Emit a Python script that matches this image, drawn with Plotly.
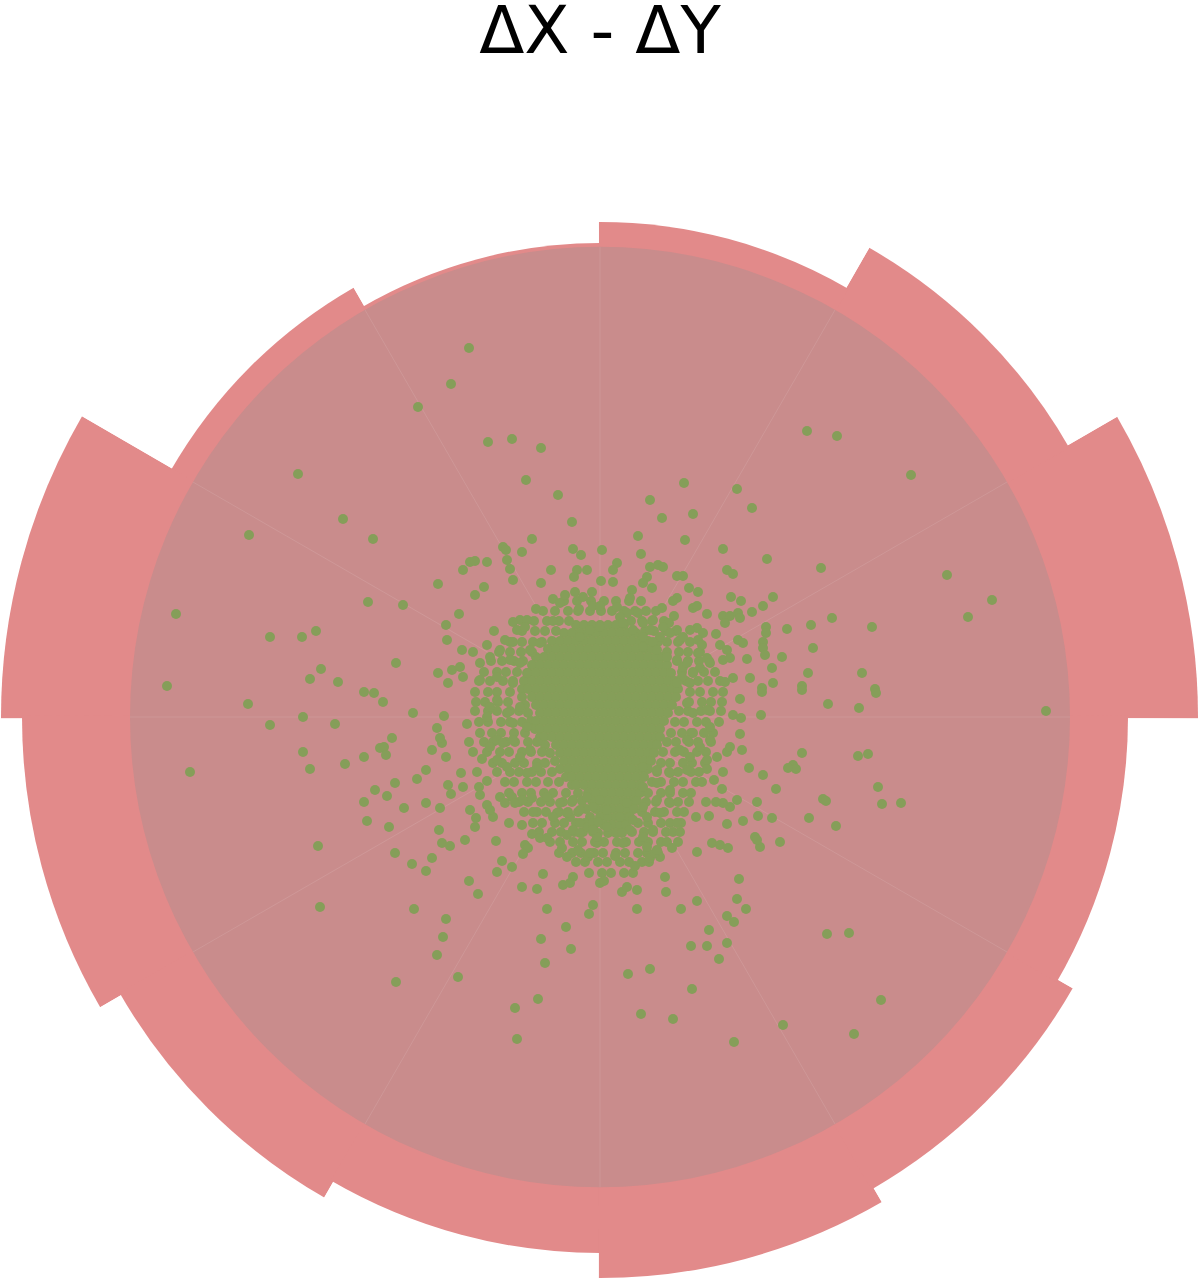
import math
import numpy as np
import plotly.graph_objects as go

TITLE = "ΔX - ΔY"

# ---- angular histogram (12 bins of 30 degrees), radial length in data units ----
bin_start = [0, 30, 60, 90, 120, 150, 180, 210, 240, 270, 300, 330]
bin_width = 30
bin_value = [598, 541, 495, 474, 495, 599, 578, 554, 536, 561, 545, 528]

# radius of the reference disc (data units)
disc_radius = 470

# ---- dense core of the ΔX-ΔY cloud: rows of (ΔY, [ΔX ...]) ----
core_dy = [92, 84, 76, 68, 60, 52, 44, 36, 28, 20, 12, 4, -4, -12, -20, -28, -36, -44,
           -52, -60, -68, -76, -84, -92, -100, -108, -116]
core_dx = [
    [-24, -16, -8, 0, 8, 16, 24],
    [-36, -28, -20, -12, -4, 4, 12, 20, 28, 36],
    [-48, -40, -32, -24, -16, -8, 0, 8, 16, 24, 32, 40, 48],
    [-52, -44, -36, -28, -20, -12, -4, 4, 12, 20, 28, 36, 44, 52],
    [-64, -56, -48, -40, -32, -24, -16, -8, 0, 8, 16, 24, 32, 40, 48, 56, 62],
    [-68, -60, -52, -44, -36, -28, -20, -12, -4, 4, 12, 20, 28, 36, 44, 52, 60, 67],
    [-72, -64, -56, -48, -40, -32, -24, -16, -8, 0, 8, 16, 24, 32, 40, 48, 56, 64, 71],
    [-76, -68, -60, -52, -44, -36, -28, -20, -12, -4, 4, 12, 20, 28, 36, 44, 52, 60, 68, 75],
    [-78, -72, -64, -56, -48, -40, -32, -24, -16, -8, 0, 8, 16, 24, 32, 40, 48, 56, 64, 72, 78],
    [-78, -68, -60, -52, -44, -36, -28, -20, -12, -4, 4, 12, 20, 28, 36, 44, 52, 60, 68, 76],
    [-75, -64, -56, -48, -40, -32, -24, -16, -8, 0, 8, 16, 24, 32, 40, 48, 56, 64, 72],
    [-72, -60, -52, -44, -36, -28, -20, -12, -4, 4, 12, 20, 28, 36, 44, 52, 60, 68],
    [-69, -64, -56, -48, -40, -32, -24, -16, -8, 0, 8, 16, 24, 32, 40, 48, 56, 64],
    [-65, -60, -52, -44, -36, -28, -20, -12, -4, 4, 12, 20, 28, 36, 44, 52, 60],
    [-60, -56, -48, -40, -32, -24, -16, -8, 0, 8, 16, 24, 32, 40, 48, 56, 60],
    [-55, -44, -36, -28, -20, -12, -4, 4, 12, 20, 28, 36, 44, 52, 57],
    [-50, -40, -32, -24, -16, -8, 0, 8, 16, 24, 32, 40, 48, 54],
    [-45, -36, -28, -20, -12, -4, 4, 12, 20, 28, 36, 44, 51],
    [-40, -32, -24, -16, -8, 0, 8, 16, 24, 32, 40, 48],
    [-34, -28, -20, -12, -4, 4, 12, 20, 28, 36, 44],
    [-28, -24, -16, -8, 0, 8, 16, 24, 32, 40],
    [-22, -12, -4, 4, 12, 20, 28, 36, 40],
    [-18, -8, 0, 8, 16, 24, 32, 37],
    [-14, -4, 4, 12, 20, 28, 34],
    [-10, 0, 8, 16, 24, 30],
    [-6, 4, 12, 20, 26],
    [-2, 8, 16, 22],
]

# ---- half-dense ring around the core: rows of (ΔY, [ΔX ...]) ----
ring_dy = [116, 106, 96, 86, 75, 65, 56, 45, 36, 25, 15, 6, -5, -16, -25, -35, -46, -55,
           -65, -76, -85, -95, -106, -115, -125, -136, -145, -156]
ring_dx = [
    [-36, -23, -9, 4, 16, 29, 41],
    [-57, -45, -32, -22, -10, 1, 12, 24, 35, 46, 56],
    [-66, -53, -41, -31, 31, 42, 52, 64],
    [-78, -65, -55, -44, 45, 54, 66, 76],
    [-90, -78, -67, -58, 58, 67, 78, 90],
    [-101, -90, -79, -68, 67, 79, 88, 100],
    [-109, -98, -86, -77, 77, 88, 99, 109],
    [-116, -103, -94, -83, 82, 93, 104, 115],
    [-121, -110, -97, -87, 86, 98, 108, 120],
    [-125, -112, -103, -90, 90, 100, 113, 123],
    [-124, -115, -102, -92, 89, 102, 111, 122],
    [-125, -112, -103, -90, -81, 79, 88, 101, 110, 121],
    [-121, -112, -99, -90, -78, 75, 84, 97, 106, 119],
    [-120, -108, -99, -86, -75, 71, 82, 91, 104, 113],
    [-116, -107, -94, -85, -72, -63, 67, 76, 89, 98, 111],
    [-113, -100, -91, -78, -69, -58, 63, 75, 84, 97, 106],
    [-107, -98, -85, -76, -63, -55, 61, 70, 83, 92, 105],
    [-103, -90, -81, -68, -59, -48, 57, 69, 78, 91, 99],
    [-95, -86, -73, -64, -52, -41, 52, 61, 74, 83, 96],
    [-91, -78, -69, -56, -47, -34, 48, 61, 70, 83, 91],
    [-81, -72, -59, -50, -37, -28, 46, 56, 69, 78, 89],
    [-76, -63, -54, -41, -32, -22, 42, 55, 64, 77, 84],
    [-67, -58, -45, -36, -24, -15, 38, 48, 61, 70, 81],
    [-61, -48, -39, -26, -17, -7, 32, 44, 53, 66, 73],
    [-50, -40, -27, -18, -5, 4, 17, 26, 39, 48, 61, 67],
    [-41, -28, -19, -6, 3, 16, 25, 38, 47, 58],
    [-24, -15, -2, 7, 20, 29, 42, 49],
    [-11, 2, 11, 24, 33],
]

# ---- remaining points of the cloud: (ΔX, ΔY) ----
cloud_points = [
    (-302, 243), (-257, 198), (-351, 182), (-227, 178), (-232, 115), (-424, 103), (-330, 80),
    (-298, 80), (-284, 86), (-279, 48), (-290, 38), (-262, 35), (-433, 31), (-236, 25), (-226, 24),
    (-131, 369), (-149, 333), (-182, 310), (-112, 275), (-88, 278), (-59, 269), (-74, 237),
    (-42, 222), (-28, 195), (-68, 178), (-97, 170), (-94, 167), (-78, 165), (-27, 168), (-19, 162),
    (2, 167), (-130, 155), (-125, 156), (-137, 147), (-113, 155), (-93, 157), (-90, 148), (-87, 137),
    (-49, 147), (-23, 147), (-13, 147), (-26, 140), (1, 136), (-59, 134), (-162, 133), (-116, 130),
    (-125, 122), (-197, 112), (-141, 103), (-154, 92), (-153, 77), (-64, 108), (-47, 118), (-40, 114),
    (-35, 122), (-25, 125), (-17, 120), (-8, 125), (-21, 108), (-7, 111), (0, 111), (-106, 86),
    (-80, 97), (-73, 97), (-87, 95), (-83, 87), (-75, 90), (-47, 96), (-95, 77), (-87, 75),
    (-204, 54), (-162, 44), (-138, 67), (-127, 65), (-113, 72), (-148, 47), (-140, 50), (-137, 40),
    (-152, 34), (-120, 54), (-110, 60), (-100, 67), (-90, 57), (-80, 54), (-70, 67), (-60, 74),
    (-20, 80), (-10, 87), (0, 90), (-120, 37), (-103, 40), (-87, 34), (-73, 44),
    (207, 286), (237, 281), (84, 234), (137, 228), (50, 217), (152, 209), (93, 203), (62, 199),
    (38, 181), (85, 177), (123, 168), (167, 158), (221, 149), (41, 163), (17, 154), (13, 147),
    (13, 135), (50, 150), (58, 152), (63, 150), (47, 140), (43, 134), (52, 129), (77, 141),
    (83, 141), (127, 147), (133, 143), (89, 129), (98, 125), (32, 127), (30, 119), (77, 119),
    (73, 116), (131, 120), (141, 116), (173, 120), (62, 109), (93, 109), (97, 111), (163, 111),
    (152, 105), (107, 103), (123, 101), (130, 101), (138, 104), (140, 99), (38, 104), (27, 104),
    (20, 100), (74, 101), (69, 94), (232, 99), (211, 92), (187, 88), (166, 90), (166, 84),
    (125, 94), (97, 89), (103, 84), (116, 83), (213, 69), (182, 60), (163, 75), (163, 69),
    (165, 62), (138, 77), (143, 74), (120, 72), (127, 67), (123, 57), (130, 59), (147, 58),
    (98, 77), (102, 72), (98, 64), (107, 59), (110, 54), (172, 49), (208, 44), (202, 31),
    (173, 34), (150, 39), (162, 29), (133, 39), (125, 35), (100, 49), (93, 44), (83, 50),
    (82, 40), (77, 87), (80, 77), (70, 84), (60, 80), (50, 87), (43, 80), (53, 75),
    (17, 110), (23, 94), (33, 87), (43, 94), (53, 97), (63, 90), (83, 80), (90, 87),
    (43, 70), (57, 67), (67, 60), (77, 57), (87, 54), (77, 34), (90, 34),
    (311, 242), (347, 142), (392, 117), (368, 100), (272, 90), (262, 44), (275, 28),
    (-352, 13), (-330, -8), (-297, 0), (-265, -7), (-410, -55), (-297, -35), (-290, -52),
    (-255, -47), (-236, -40), (-220, -31), (-225, -73), (-236, -85), (-233, -104), (-282, -129),
    (-280, -190),
    (-217, 15), (-187, 4), (-156, 1), (-133, -7), (-163, -11), (-208, -21), (-216, -30), (-214, -38),
    (-168, -33), (-158, -26), (-160, -21), (-154, -40), (-131, -25), (-127, -35), (-118, -42),
    (-174, -53), (-183, -62), (-139, -56), (-137, -70), (-123, -55), (-121, -70), (-120, -78),
    (-113, -64), (-205, -66), (-213, -79), (-152, -68), (-149, -77), (-174, -86), (-160, -91),
    (-196, -91), (-130, -93), (-124, -101), (-125, -110), (-113, -88), (-107, -100), (-110, -93),
    (-100, -80), (-95, -86), (-88, -80), (-85, -86), (-77, -83), (-68, -81), (-67, -95),
    (-211, -110), (-161, -113), (-91, -106), (-78, -108), (-135, -123), (-104, -124), (-158, -126),
    (-150, -129), (-68, -117), (-60, -121), (-53, -121), (-75, -128), (-72, -131), (-77, -137),
    (-205, -136), (-188, -147), (-168, -141), (-174, -154), (-98, -144), (-88, -150), (-103, -155),
    (-131, -164), (-122, -177), (-78, -170), (-63, -172), (-57, -157), (-37, -168), (-27, -160),
    (-30, -166), (0, -166), (4, -164), (-38, -131), (-33, -140), (-22, -133), (-12, -140),
    (-10, -136), (-3, -126), (-3, -120), (-33, -118), (-27, -113), (-20, -106), (-12, -110),
    (-7, -106), (-2, -105), (-43, -96), (-30, -100), (-186, -192), (-154, -202), (-157, -220),
    (-163, -238), (-53, -192), (-34, -210), (-59, -222), (-29, -232), (-55, -246), (-7, -188),
    (-11, -197), (-204, -265), (-142, -260), (-62, -282), (-85, -291), (-83, -322),
    (-110, 10), (-103, 17), (-113, 0), (-93, 4), (-80, 10), (-87, -6), (-73, -10), (-103, -23),
    (-110, -30), (-97, -26), (-87, -23), (-103, -43), (-93, -50), (-80, -40), (-70, -33),
    (-73, -56), (-63, -50), (-53, -80), (-40, -86), (-27, -83), (-13, -80), (0, -83), (-47, -100),
    (-33, -96), (-20, -93), (-7, -90), (7, -93), (-20, -116), (-7, -113), (7, -110),
    (228, 13), (161, 2), (162, 25), (202, 27), (140, 18), (133, 2), (141, -1), (140, -17),
    (142, -33), (127, -35), (130, -30), (202, -36), (193, -48), (196, -52), (188, -51), (149, -51),
    (163, -58), (176, -72), (223, -82), (226, -84), (236, -109), (209, -101), (172, -101),
    (158, -99), (157, -85), (180, -125), (155, -120), (160, -130), (157, -123), (143, -104),
    (127, -107), (137, -83), (130, -90), (123, -86), (116, -85), (106, -85), (122, -72),
    (123, -55), (114, -63), (107, -52), (102, -65), (109, -99), (96, -100), (112, -126),
    (120, -128), (128, -131), (97, -135), (77, -106), (80, -115), (78, -125), (72, -131),
    (60, -140), (50, -141), (55, -136), (35, -149), (23, -126), (15, -139), (65, -160),
    (66, -175), (139, -162), (97, -184), (81, -192), (137, -182), (146, -192), (127, -199),
    (134, -205), (109, -213), (127, -226), (107, -229), (91, -229), (119, -242), (22, -175),
    (27, -170), (37, -173), (37, -192), (227, -217), (28, -257), (50, -252), (92, -272),
    (41, -297), (73, -302), (183, -308), (134, -325),
    (87, 14), (93, 4), (107, 7), (110, -10), (87, -23), (93, -16), (100, -30), (110, -23),
    (80, -33), (90, -40), (107, -43), (117, -40), (43, -50), (57, -53), (70, -56), (87, -53),
    (43, -70), (57, -66), (70, -73), (27, -86), (43, -90), (57, -83), (70, -86), (20, -100),
    (33, -103), (47, -100), (60, -96), (30, -113), (43, -120), (53, -113), (47, -130), (57, -133),
    (276, 24), (259, 9), (446, 6), (258, -39), (268, -37), (278, -70), (282, -87), (301, -86),
    (249, -216), (281, -283), (254, -317),
]

# ---- styling / layout constants ----
W, H = 1200, 1281
CX = 600            # centre, px from left
CY = 564            # centre, px from bottom
OVERLAP = 0.15      # degrees each bar sector overlaps its neighbours (hides AA seams)
BAR_COLOR = "rgb(226,138,138)"
DISC_COLOR = "rgb(201,140,140)"
POINT_COLOR = "rgb(133,158,89)"


def sector_bbox(s0, s1):
    """Same bounding-box rule plotly.js uses for a polar sector."""
    arc = s1 - s0
    a0 = s0 % 360
    a1 = a0 + arc
    ax0, ay0 = math.cos(math.radians(a0)), math.sin(math.radians(a0))
    ax1, ay1 = math.cos(math.radians(a1)), math.sin(math.radians(a1))
    if (a0 <= 90 and a1 >= 90) or (a0 > 90 and a1 >= 450):
        y1 = 1
    elif ay0 <= 0 and ay1 <= 0:
        y1 = 0
    else:
        y1 = max(ay0, ay1)
    if (a0 <= 180 and a1 >= 180) or (a0 > 180 and a1 >= 540):
        x0 = -1
    elif ax0 >= 0 and ax1 >= 0:
        x0 = 0
    else:
        x0 = min(ax0, ax1)
    if (a0 <= 270 and a1 >= 270) or (a0 > 270 and a1 >= 630):
        y0 = -1
    elif ay0 >= 0 and ay1 >= 0:
        y0 = 0
    else:
        y0 = min(ay0, ay1)
    if a1 >= 360:
        x1 = 1
    elif ax0 <= 0 and ax1 <= 0:
        x1 = 0
    else:
        x1 = max(ax0, ax1)
    return x0, y0, x1, y1


def clamp01(v):
    return min(1.0, max(0.0, v))


fig = go.Figure()
layout_polars = {}

# one polar sector per histogram bar, all sharing the same centre and scale
for i, (start, val) in enumerate(zip(bin_start, bin_value)):
    name = "polar" if i == 0 else f"polar{i + 1}"
    s0, s1 = start - OVERLAP, start + bin_width + OVERLAP
    x0, y0, x1, y1 = sector_bbox(s0, s1)
    limits = []
    if x0 < 0:
        limits.append(CX / -x0)
    if x1 > 0:
        limits.append((W - CX) / x1)
    if y0 < 0:
        limits.append(CY / -y0)
    if y1 > 0:
        limits.append((H - CY) / y1)
    R = min([val + 3] + limits)
    dom_x = [clamp01((CX + x0 * R) / W), clamp01((CX + x1 * R) / W)]
    dom_y = [clamp01((CY + y0 * R) / H), clamp01((CY + y1 * R) / H)]
    layout_polars[name] = dict(
        domain=dict(x=dom_x, y=dom_y),
        sector=[s0, s1],
        bgcolor="rgba(0,0,0,0)",
        radialaxis=dict(visible=False, range=[0, R], showgrid=False),
        angularaxis=dict(visible=False, showgrid=False),
    )
    fig.add_trace(go.Barpolar(
        r=[val], theta=[start + bin_width / 2], width=[bin_width + 2 * OVERLAP],
        marker=dict(color=BAR_COLOR, line=dict(width=0)),
        subplot=name, showlegend=False, hoverinfo="skip",
    ))

# disc + scatter cloud on top
disc_name = f"polar{len(bin_start) + 1}"
layout_polars[disc_name] = dict(
    domain=dict(x=[(CX - disc_radius) / W, (CX + disc_radius) / W],
                y=[(CY - disc_radius) / H, (CY + disc_radius) / H]),
    bgcolor=DISC_COLOR,
    radialaxis=dict(visible=False, range=[0, disc_radius], showgrid=False),
    angularaxis=dict(showgrid=True, gridcolor="rgba(255,255,255,0.10)", gridwidth=1,
                     showline=False, showticklabels=False, ticks="",
                     tickmode="linear", tick0=0, dtick=30),
)


def expand_rows(row_dy, row_dx):
    xs, ys = [], []
    for yv, row in zip(row_dy, row_dx):
        for xv in row:
            xs.append(xv)
            ys.append(yv)
    return xs, ys


core_x, core_y = expand_rows(core_dy, core_dx)
ring_x, ring_y = expand_rows(ring_dy, ring_dx)
dx_all = np.array(core_x + ring_x + [p[0] for p in cloud_points], dtype=float)
dy_all = np.array(core_y + ring_y + [p[1] for p in cloud_points], dtype=float)

fig.add_trace(go.Scatterpolar(
    r=np.hypot(dx_all, dy_all),
    theta=np.degrees(np.arctan2(dy_all, dx_all)),
    mode="markers",
    marker=dict(size=10, color=POINT_COLOR, line=dict(width=0)),
    subplot=disc_name, showlegend=False, hoverinfo="skip",
))

fig.update_layout(
    width=W, height=H,
    margin=dict(l=0, r=0, t=0, b=0),
    paper_bgcolor="white",
    plot_bgcolor="white",
    showlegend=False,
    title=dict(text=TITLE, x=0.5, xanchor="center", xref="paper",
               y=1 - 30 / H, yref="container", yanchor="middle",
               font=dict(family="DejaVu Sans", size=66, color="black")),
    **layout_polars,
)

fig.write_html("out.html",
               config={"displayModeBar": False},
               post_script="document.body.style.margin='0';document.body.style.overflow='hidden';")
